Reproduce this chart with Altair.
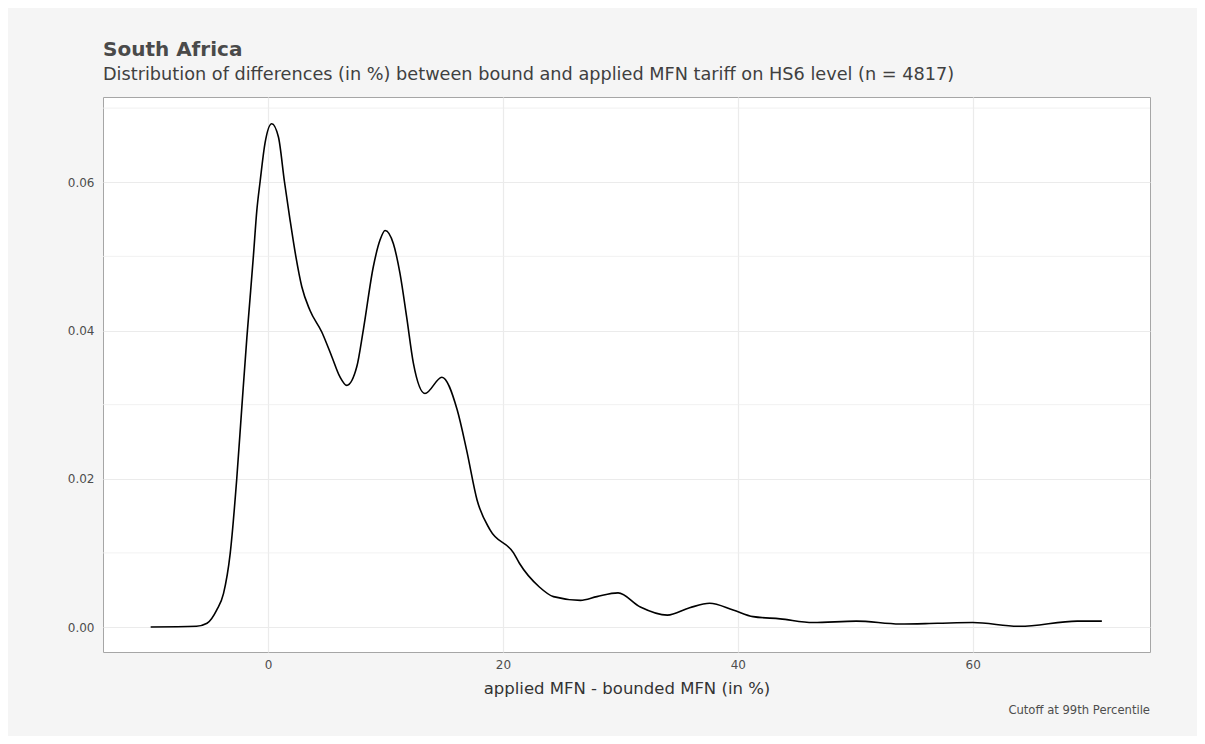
import altair as alt
import pandas as pd

# ---- data ----
diff_pct = [-10.0, -6.1, -5.2, -4.37, -3.8, -3.23, -2.67, -2.24, -1.81, -1.53, -1.25, -0.96,
            -0.68, -0.26, 0.31, 0.88, 1.39, 1.87, 2.35, 2.87, 3.57, 4.57, 5.42, 6.1, 6.7,
            7.55, 8.11, 8.96, 9.53, 9.96, 10.67, 11.23, 11.8, 12.37, 13.36, 14.8, 16.1,
            16.9, 17.8, 18.9, 20.9, 21.4, 23.1, 24.3, 26.6, 28.0, 29.8, 31.7, 34.0, 35.9,
            37.6, 39.6, 41.3, 43.6, 46.4, 50.1, 53.8, 57.0, 60.0, 64.0, 68.9, 71.0]
density = [0.0, 0.0001, 0.0005, 0.0023, 0.0045, 0.0099, 0.0200, 0.0296, 0.0390, 0.0445,
           0.0501, 0.0562, 0.0601, 0.0653, 0.0679, 0.0661, 0.0601, 0.0549, 0.0501, 0.0459,
           0.0427, 0.0398, 0.0365, 0.0338, 0.0326, 0.0351, 0.0401, 0.0486, 0.0522, 0.0535,
           0.0517, 0.0477, 0.0418, 0.0356, 0.0315, 0.0337, 0.0293, 0.0239, 0.0171, 0.0131,
           0.0100, 0.0086, 0.0054, 0.0041, 0.0036, 0.0041, 0.0046, 0.0027, 0.0016, 0.0026,
           0.0032, 0.0023, 0.0014, 0.0011, 0.0006, 0.0008, 0.0004, 0.0005, 0.0006, 0.0001,
           0.0008, 0.0008]
x_ticks = [0, 20, 40, 60]
y_ticks = [0.0, 0.02, 0.04, 0.06]
y_minor = [0.01, 0.03, 0.05, 0.07]

title_text = "South Africa"
subtitle_text = ("Distribution of differences (in %) between bound and applied MFN tariff "
                 "on HS6 level (n = 4817)")
x_title = "applied MFN - bounded MFN (in %)"
caption_text = "Cutoff at 99th Percentile"

df = pd.DataFrame({"x": diff_pct, "y": density})
minor_df = pd.DataFrame({"y": y_minor})

W, H = 1047, 555
FONT = "DejaVu Sans"

xscale = alt.Scale(domain=[-14.06, 75.1], nice=False, zero=False)
yscale = alt.Scale(domain=[-0.00337, 0.0715], nice=False, zero=False)

minor = alt.Chart(minor_df).mark_rule(color="#ededed", strokeWidth=0.8).encode(
    y=alt.Y("y:Q", scale=yscale)
)

line = alt.Chart(df).mark_line(color="black", strokeWidth=1.6, interpolate="monotone").encode(
    x=alt.X("x:Q", scale=xscale,
            axis=alt.Axis(values=x_ticks, title=x_title, grid=True, ticks=False, domain=False,
                          labelFontSize=12, labelColor="#4d4d4d", labelPadding=7,
                          titleFontSize=16.5, titleColor="#333333", titleFontWeight="normal",
                          titlePadding=10, titleFont=FONT, labelFont=FONT,
                          gridColor="#ebebeb", gridWidth=1.2)),
    y=alt.Y("y:Q", scale=yscale,
            axis=alt.Axis(values=y_ticks, format=".2f", title="", grid=True, ticks=False,
                          domain=False, labelFontSize=12, labelColor="#4d4d4d",
                          labelPadding=9, labelFont=FONT,
                          gridColor="#ebebeb", gridWidth=1.2)),
)

def txt(s, x, y, size, weight="normal", color="#404040", align="left"):
    return alt.Chart(pd.DataFrame({"t": [s]})).mark_text(
        align=align, baseline="alphabetic", fontSize=size, fontWeight=weight,
        color=color, font=FONT
    ).encode(x=alt.value(x), y=alt.value(y), text="t:N")

title = txt(title_text, 0, -41, 20, "bold", "#4a4a4a")
subtitle = txt(subtitle_text, 0, -17, 17.7, "normal", "#404040")
caption = txt(caption_text, W, 617, 11.6, "normal", "#4d4d4d", "right")

chart = alt.layer(minor, line, title, subtitle, caption).properties(
    width=W, height=H,
    autosize=alt.AutoSizeParams(type="none"),
    padding={"left": 95, "top": 89, "right": 47, "bottom": 84},
    background="#f5f5f5",
).configure_view(stroke="#a6a6a6", fill="white", strokeWidth=1)

chart.save("out.html", embed_options={"renderer": "svg", "actions": False})
